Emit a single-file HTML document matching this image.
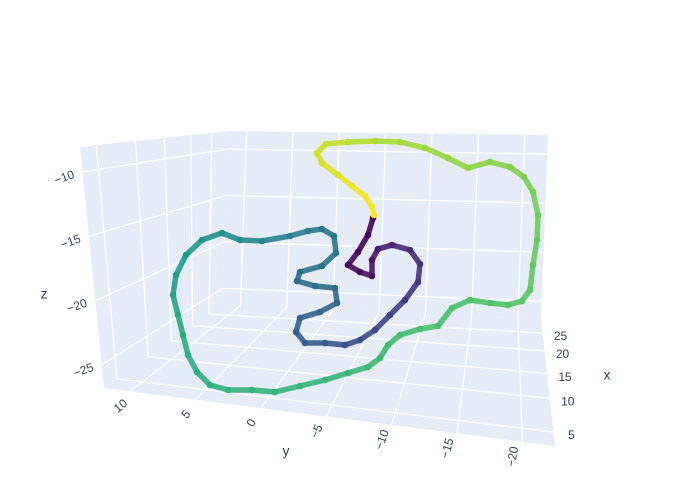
<!DOCTYPE html>
<html><head><meta charset="utf-8"><style>
html,body{margin:0;padding:0;background:#fff;}
svg{display:block;font-family:"Liberation Sans",Arial,sans-serif;}
</style></head><body>
<svg id="chart" width="700" height="500" viewBox="0 0 700 500">
<g id="panels"></g><g id="grid"></g><g id="marks"></g><g id="labels"></g>
</svg>
<script>
const yVals=[-13.3,-12.8,-11.8,-10.8,-12.0,-13.2,-13.2,-13.8,-15.2,-17.0,-18.0,-17.8,-16.5,-15.0,-13.5,-12.0,-10.5,-8.5,-6.5,-5.6,-6.0,-8.0,-9.7,-9.5,-7.5,-5.7,-6.0,-8.2,-9.6,-9.4,-8.2,-6.8,-5.0,-2.2,0.0,1.8,3.8,5.4,6.4,6.7,6.2,5.7,5.2,4.3,3.0,1.2,-1.2,-3.5,-6.0,-8.5,-10.8,-12.8,-14.0,-14.8,-16.0,-18.0,-19.8,-21.2,-23.0,-25.0,-26.8,-28.2,-29.0,-29.3,-29.7,-29.8,-29.3,-28.4,-27.0,-25.0,-22.8,-20.8,-18.5,-16.0,-13.5,-10.8,-8.6,-7.7,-8.2,-9.8,-11.2,-12.5,-13.2,-13.4];
const zVals=[-14.3,-16.0,-17.7,-19.0,-19.7,-20.1,-18.5,-17.4,-17.0,-17.5,-18.9,-20.7,-22.5,-24.0,-25.5,-26.5,-27.0,-26.8,-26.8,-25.7,-24.3,-23.7,-22.8,-21.3,-21.1,-20.6,-19.7,-19.1,-17.8,-16.1,-15.4,-15.6,-16.1,-16.6,-16.5,-15.8,-16.5,-18.0,-20.0,-22.0,-24.0,-26.0,-28.0,-29.7,-31.0,-31.5,-31.5,-31.7,-31.1,-30.5,-29.8,-29.2,-28.3,-27.0,-26.0,-25.4,-25.1,-23.3,-22.5,-22.8,-23.0,-22.6,-21.5,-19.0,-16.5,-14.0,-11.7,-10.2,-9.2,-8.7,-9.3,-8.3,-7.3,-6.7,-6.6,-6.7,-6.9,-7.8,-8.8,-10.0,-11.1,-12.1,-13.2,-14.0];
const colorVals=[0,0.01,0.02,0.03,0.04,0.05,0.06,0.08,0.10,0.12,0.14,0.16,0.18,0.20,0.22,0.24,0.26,0.28,0.29,0.30,0.31,0.32,0.33,0.34,0.35,0.36,0.37,0.38,0.39,0.40,0.41,0.42,0.43,0.46,0.48,0.50,0.52,0.54,0.56,0.58,0.60,0.62,0.625,0.63,0.636,0.642,0.648,0.654,0.66,0.666,0.672,0.678,0.684,0.69,0.696,0.702,0.708,0.714,0.72,0.726,0.732,0.738,0.744,0.76,0.77,0.78,0.79,0.80,0.81,0.82,0.83,0.84,0.85,0.86,0.88,0.90,0.92,0.93,0.94,0.955,0.97,0.98,0.99,1.0];
const zTicks=[-10,-15,-20,-25];
const yTicks=[10,5,0,-5,-10,-15,-20];
const xTicks=[5,10,15,20,25];

const NS="http://www.w3.org/2000/svg";
function mk(tag,attrs,parent){const e=document.createElementNS(NS,tag);for(const k in attrs)e.setAttribute(k,attrs[k]);parent.appendChild(e);return e;}
function sx(y){return 240-10*y;}
function sy(z){return 75-10*z;}
const A=[80,147],B=[228,131],C=[548,135],H=[541,319],G=[222,305],E=[104,388],D=[555,446];
function bil(q,u,v){
  const [p00,p10,p11,p01]=q;
  return [p00[0]*(1-u)*(1-v)+p10[0]*u*(1-v)+p11[0]*u*v+p01[0]*(1-u)*v,
          p00[1]*(1-u)*(1-v)+p10[1]*u*(1-v)+p11[1]*u*v+p01[1]*(1-u)*v];}
const zMax=-8.05,zMin=-26.8,yL=12,yR=-22.5;
function zt(z){return (zMax-z)/(zMax-zMin);}
function yt(y){return (yL-y)/(yL-yR);}
const xTab=[[3,1],[5,0.89],[10,0.625],[15,0.43],[20,0.25],[25,0.11],[28,0]];
function xt(x){for(let i=0;i<xTab.length-1;i++){const a=xTab[i],b=xTab[i+1];if(x<=b[0]){return a[1]+(b[1]-a[1])*(x-a[0])/(b[0]-a[0]);}}return 0;}
const panels=document.getElementById('panels');
const leftQ=[A,B,G,E], backQ=[B,C,H,G], floorQ=[G,H,D,E];
[['left-wall',leftQ],['back-wall',backQ],['floor-panel',floorQ]].forEach(([n,q])=>{
  const p=mk('polygon',{points:q.map(p=>p.join(',')).join(' '),fill:'#e5ecf6'},panels);
  
  
});
const grid=document.getElementById('grid');
function line(p,q,name){const l=mk('line',{x1:p[0],y1:p[1],x2:q[0],y2:q[1],stroke:'#fff','stroke-width':1.2},grid);
  
  }
zTicks.forEach(z=>{const v=zt(z);
  line(bil(leftQ,0,v),bil(leftQ,1,v),'z-gridline');
  line(bil(backQ,0,v),bil(backQ,1,v),'z-gridline');});
yTicks.forEach(y=>{const u=yt(y);
  line(bil(backQ,u,0),bil(backQ,u,1),'y-gridline');
  line(bil(floorQ,u,0),bil(floorQ,u,1),'y-gridline');});
xTicks.forEach(x=>{const v=xt(x);
  line(bil(floorQ,0,v),bil(floorQ,1,v),'x-gridline');
  line(bil(leftQ,1-v,0),bil(leftQ,1-v,1),'x-gridline');});
const vir=[[68,1,84],[72,40,120],[62,74,137],[49,104,142],[38,130,142],[31,158,137],[53,183,121],[109,205,89],[180,222,44],[253,231,37]];
function col(t){t=Math.max(0,Math.min(1,t));const f=t*(vir.length-1),i=Math.min(Math.floor(f),vir.length-2),r=f-i;const c=vir[i].map((a,k)=>Math.round(a+(vir[i+1][k]-a)*r));return `rgb(${c})`;}
const marks=document.getElementById('marks');
const n=yVals.length;
for(let i=0;i<n-1;i++){
  const s=mk('line',{x1:sx(yVals[i]),y1:sy(zVals[i]),x2:sx(yVals[i+1]),y2:sy(zVals[i+1]),stroke:col((colorVals[i]+colorVals[i+1])/2),'stroke-width':5.5,'stroke-linecap':'round','stroke-opacity':0.9},marks);
  
  
}
for(let i=0;i<n;i++){
  const c=mk('circle',{cx:sx(yVals[i]),cy:sy(zVals[i]),r:3.3,fill:col(colorVals[i])},marks);
  
  
}
const labels=document.getElementById('labels');
function txt(x,y,s,rot,name,size){const t=mk('text',{x:x,y:y,'font-size':size||12,fill:'#2a3f5f','text-anchor':'middle','dominant-baseline':'middle',transform:rot?`rotate(${rot} ${x} ${y})`:''},labels);t.textContent=s;
  
  }
zTicks.forEach(z=>{const p=bil(leftQ,0,zt(z));txt(p[0]-18,p[1]+6,String(z).replace('-','\u2212'),-20,'z-tick-label');});
const yRot=[-40,-50,-60,-65,-70,-75,-80];
yTicks.forEach((y,i)=>{const p=bil(floorQ,yt(y),1);txt(p[0]-9,p[1]+15,String(y).replace('-','\u2212'),yRot[i],'y-tick-label');});
xTicks.forEach(x=>{const p=bil(floorQ,1,xt(x));txt(p[0]+18,p[1]+4,String(x),0,'x-tick-label');});
txt(44,295,'z',0,'z-axis-title',14);
txt(286,452,'y',0,'y-axis-title',14);
txt(607,376,'x',0,'x-axis-title',14);
</script>
</body></html>
